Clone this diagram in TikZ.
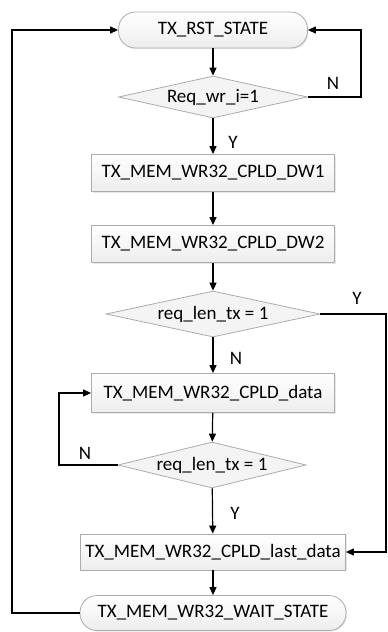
\documentclass[tikz,border=0pt]{standalone}
\usepackage{tikz, xcolor}
\usepackage{fontspec}
\setmainfont{Carlito}
\usetikzlibrary{shapes,arrows,arrows.meta,shadows}

\begin{document}
\begin{tikzpicture}[thick, x=1pt, y=-1pt]
\tikzstyle{vertexs}=[rectangle, rounded corners=17pt, draw=gray!65, line width=0.8pt, top color=white, bottom color=gray!14, drop shadow={opacity=0.18, shadow xshift=1.2pt, shadow yshift=-1.2pt}, inner sep=0pt, minimum height=36pt, font=\fontsize{19}{22}\selectfont]
\tikzstyle{vertexr}=[rectangle, draw=gray!65, line width=0.8pt, top color=white, bottom color=gray!14, drop shadow={opacity=0.18, shadow xshift=1.2pt, shadow yshift=-1.2pt}, inner sep=0pt, minimum height=37pt, font=\fontsize{19}{22}\selectfont]
\tikzstyle{vertexd}=[diamond, aspect=4.5, draw=gray!65, line width=0.8pt, fill=gray!9, inner sep=0pt, font=\fontsize{19}{22}\selectfont]
\tikzstyle{labelc}=[inner sep=0pt, font=\fontsize{19}{22}\selectfont]
\tikzstyle{drawstyle}=[line width=1.2pt, -{Triangle[length=8pt,width=7pt]}]

\useasboundingbox (0,0) rectangle (388,632);

\node[vertexs, minimum width=189pt] (G0) at (213,30) {TX\_RST\_STATE};
\node[vertexd, minimum width=189pt, minimum height=42pt] (G1) at (213,97) {Req\_wr\_i=1};
\draw[drawstyle] (G0) -- (G1);
\coordinate (K1) at (361,97);
\draw[drawstyle] (G1.east) -- (K1) |- (G0.east);
\node[labelc] (L1) at (333,83) {N};
\node[vertexr, minimum width=243pt] (G2) at (213,173) {TX\_MEM\_WR32\_CPLD\_DW1};
\draw[drawstyle] (G1) -- (G2);
\node[labelc] (L2) at (233,142) {Y};
\node[vertexr, minimum width=243pt] (G3) at (213,244) {TX\_MEM\_WR32\_CPLD\_DW2};
\draw[drawstyle] (G2) -- (G3);
\node[vertexd, minimum width=214pt, minimum height=46pt] (G4) at (213,314) {req\_len\_tx = 1};
\draw[drawstyle] (G3) -- (G4);
\node[labelc] (L3) at (357,298) {Y};
\node[vertexr, minimum width=243pt, minimum height=39pt] (G5) at (213,393) {TX\_MEM\_WR32\_CPLD\_data};
\draw[drawstyle] (G4) -- (G5);
\node[labelc] (L4) at (236,358) {N};
\node[vertexd, minimum width=188pt, minimum height=46pt] (G6) at (212,465) {req\_len\_tx = 1};
\draw[drawstyle] (G5) -- (G6);
\coordinate (K3) at (59,465);
\draw[drawstyle] (G6.west) -- (K3) |- (G5.west);
\node[labelc] (L5) at (85,453) {N};
\node[vertexr, minimum width=265pt, minimum height=36pt] (G7) at (213,552) {TX\_MEM\_WR32\_CPLD\_last\_data};
\draw[drawstyle] (G6) -- (G7);
\node[labelc] (L6) at (235,513) {Y};
\coordinate (K2) at (386,314);
\draw[drawstyle] (G4.east) -- (K2) |- (G7.east);
\node[vertexs, minimum width=266pt, minimum height=35pt] (G8) at (213,613) {TX\_MEM\_WR32\_WAIT\_STATE};
\draw[drawstyle] (G7) -- (G8);
\coordinate (K4) at (12,613);
\draw[drawstyle] (G8.west) -- (K4) |- (G0.west);
\end{tikzpicture}
\end{document}
